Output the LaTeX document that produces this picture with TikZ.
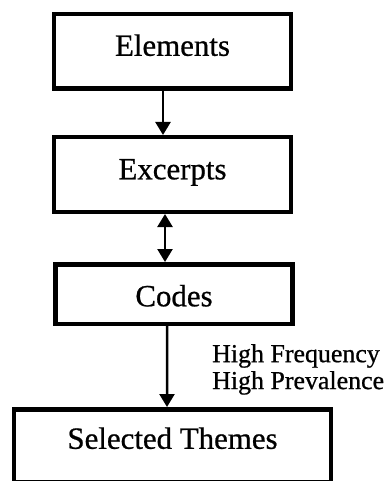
\documentclass[tikz,border=0pt]{standalone}
\usepackage{fontspec}
\setmainfont{Liberation Serif}[FakeBold=0.7]
\usetikzlibrary{arrows.meta}

\tikzset{
    stage/.style={draw, line width=4.5bp, minimum width=236.5bp, inner sep=0pt,
        font=\fontsize{31}{33}\selectfont, text height=21.7bp},
    flow/.style={line width=2.5bp, -{Triangle[width=15bp,length=13bp]}},
    flowboth/.style={line width=2.5bp, {Triangle[width=15bp,length=13bp]}-{Triangle[width=15bp,length=13bp]}}
}

\begin{document}
\begin{tikzpicture}[x=1bp, y=-1bp]
    \useasboundingbox (0,0) rectangle (387,481);
    \node[stage, minimum height=74.5bp, text depth=13.1bp] (elem) at (172.5,51.5) {Elements};
    \node[stage, minimum height=74.5bp, text depth=12.1bp] (exc) at (172.5,174.5) {Excerpts};
    \node[stage, minimum height=59.5bp, text height=32.4bp, text depth=7.8bp] (codes) at (174,294) {Codes};
    \node[stage, minimum width=316.5bp, minimum height=72.5bp, text depth=15.1bp] (themes) at (172.5,445.5) {Selected Themes};
    \draw[flow] ([xshift=-9.5bp]elem.south) -- ([xshift=-9.5bp]exc.north);
    \draw[flowboth] ([xshift=-7.5bp]exc.south) -- ([xshift=-9bp]codes.north);
    \draw[flow] ([xshift=-7bp]codes.south) -- ([xshift=-5.5bp]themes.north);
    \node[anchor=north west, inner sep=0pt, align=left,
        font=\fontsize{26}{27}\selectfont] (crit) at (212,344)
        {High Frequency\\High Prevalence};
\end{tikzpicture}
\end{document}
